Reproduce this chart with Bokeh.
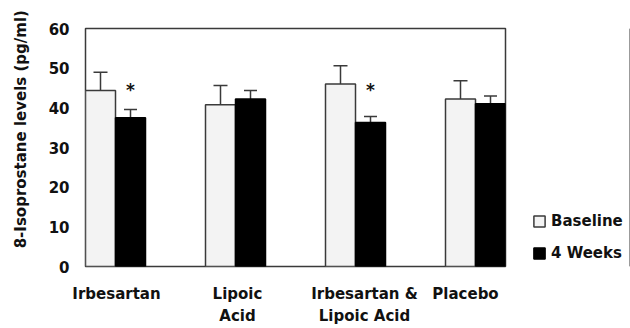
from bokeh.plotting import figure
from bokeh.layouts import row
from bokeh.models import ColumnDataSource, Label, Legend, LegendItem, FixedTicker
from bokeh.embed import file_html
from bokeh.resources import INLINE

# ---- data ----
categories = ["Irbesartan", "Lipoic\nAcid", "Irbesartan &\nLipoic Acid", "Placebo"]
series = ["Baseline", "4 Weeks"]
baseline = [44.4, 40.8, 46.0, 42.2]
baseline_err = [4.6, 4.8, 4.6, 4.6]
weeks4 = [37.5, 42.2, 36.3, 41.0]
weeks4_err = [2.1, 2.2, 1.5, 2.0]
significance = ["*", "", "*", ""]
y_ticks = [0, 10, 20, 30, 40, 50, 60]

FONT = "DejaVu Sans"
TXT = "#111111"
EDGE = "#3a3a3a"
BASE_FILL = "#f3f3f3"

idx = list(range(1, len(categories) + 1))
bw = 0.25

p = figure(width=515, height=328, x_range=(0.75, 4.25), y_range=(0, 60),
           output_backend="svg", toolbar_location=None,
           min_border_left=85, min_border_right=10, min_border_top=28, min_border_bottom=59)
p.xgrid.visible = False
p.ygrid.visible = False
p.outline_line_color = EDGE
p.outline_line_width = 1.5
p.background_fill_color = "white"
p.border_fill_color = "white"

# y axis
ya = p.yaxis[0]
ya.ticker = FixedTicker(ticks=y_ticks)
ya.axis_line_color = None
ya.major_tick_line_color = None
ya.minor_tick_line_color = None
ya.major_tick_out = 0
ya.major_tick_in = 0
ya.major_label_standoff = 16
ya.major_label_text_font = FONT
ya.major_label_text_font_style = "bold"
ya.major_label_text_font_size = "15px"
ya.major_label_text_color = TXT
ya.axis_label = "\u00a0" * 7 + "8-Isoprostane levels (pg/ml)"
ya.axis_label_standoff = 16
ya.axis_label_text_font = FONT
ya.axis_label_text_font_style = "bold"
ya.axis_label_text_font_size = "15px"
ya.axis_label_text_color = TXT

# x axis with category labels (slight per-label horizontal nudges, in px)
label_dx = [1, 2, 9, -10]
tick_pos = [i + dx / 120.0 for i, dx in zip(idx, label_dx)]
xa = p.xaxis[0]
xa.ticker = FixedTicker(ticks=tick_pos)
xa.major_label_overrides = {t: c for t, c in zip(tick_pos, categories)}
xa.axis_line_color = None
xa.major_tick_line_color = None
xa.minor_tick_line_color = None
xa.major_tick_out = 0
xa.major_tick_in = 0
xa.major_label_standoff = 18
xa.major_label_text_font = FONT
xa.major_label_text_font_style = "bold"
xa.major_label_text_font_size = "15px"
xa.major_label_text_color = TXT
xa.major_label_text_line_height = 1.25

src = ColumnDataSource(dict(
    xb=[i - bw / 2 for i in idx], xw=[i + bw / 2 for i in idx],
    b=baseline, w=weeks4,
    bt=[v + e for v, e in zip(baseline, baseline_err)],
    wt=[v + e for v, e in zip(weeks4, weeks4_err)],
))

# error bars (upper only)
p.segment(x0="xb", y0="b", x1="xb", y1="bt", source=src, line_color=EDGE, line_width=1.5)
p.segment(x0="xw", y0="w", x1="xw", y1="wt", source=src, line_color=EDGE, line_width=1.5)
p.scatter(x="xb", y="bt", source=src, marker="dash", size=14, line_color=EDGE, line_width=1.5)
p.scatter(x="xw", y="wt", source=src, marker="dash", size=13, line_color=EDGE, line_width=1.5)

p.vbar(x="xb", top="b", width=bw, bottom=0, source=src,
       fill_color=BASE_FILL, line_color=EDGE, line_width=1.5)
p.vbar(x="xw", top="w", width=bw, bottom=0, source=src,
       fill_color="#000000", line_color="#000000", line_width=1.5)

px_per_unit = 241 / 60.0
def dy(page_y):
    return (269 - page_y) / px_per_unit

# significance markers
for i, s in zip(idx, significance):
    if s:
        p.add_layout(Label(x=i + bw / 2, y=dy(90), text=s, text_font=FONT,
                           text_font_style="bold", text_font_size="17px",
                           text_align="center", text_baseline="middle", text_color=TXT))

# ---- legend panel (separate narrow figure to the right) ----
pl = figure(width=115, height=328, x_range=(0, 1), y_range=(0, 1),
            output_backend="svg", toolbar_location=None,
            min_border_left=0, min_border_right=0, min_border_top=0, min_border_bottom=0)
pl.axis.visible = False
pl.grid.visible = False
pl.outline_line_color = None
offscreen = ColumnDataSource(dict(x=[5.0], top=[5.0]))  # outside the view, only feeds the legend
lb = pl.vbar(x="x", top="top", width=0.1, source=offscreen,
             fill_color=BASE_FILL, line_color=EDGE, line_width=1.5)
lw = pl.vbar(x="x", top="top", width=0.1, source=offscreen,
             fill_color="#000000", line_color="#000000", line_width=1.5)
legend = Legend(items=[LegendItem(label=series[0], renderers=[lb]),
                       LegendItem(label=series[1], renderers=[lw])],
                location=(17, 4), orientation="vertical",
                glyph_width=14, glyph_height=14, label_standoff=5, spacing=14,
                padding=0, margin=0, border_line_color=None, background_fill_alpha=0,
                label_text_font=FONT, label_text_font_style="bold",
                label_text_font_size="15px", label_text_color=TXT)
pl.add_layout(legend, "center")

layout = row(p, pl)
open("out.html", "w").write(file_html(layout, INLINE))
